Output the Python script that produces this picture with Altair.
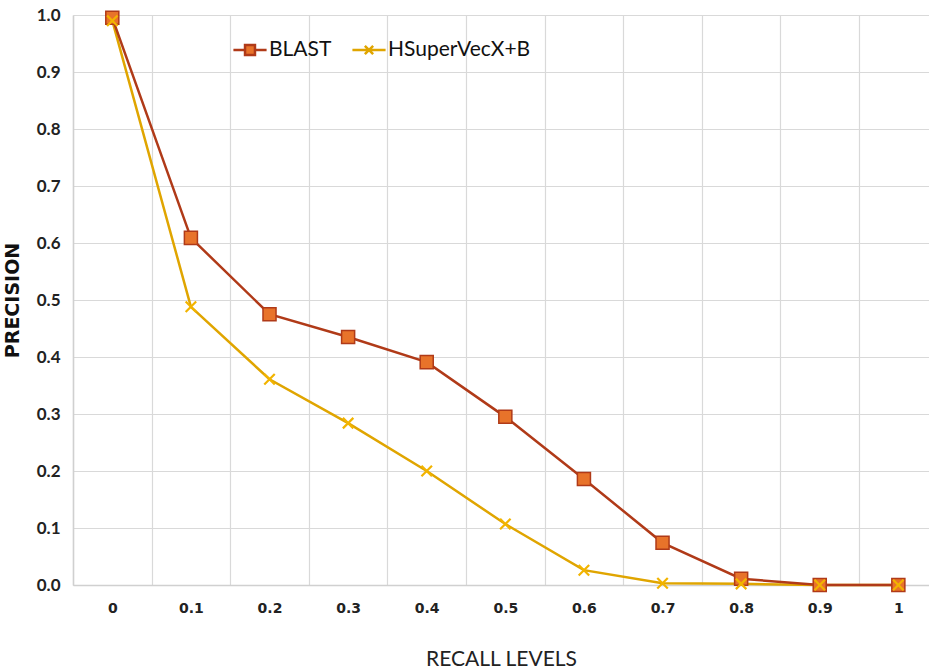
import altair as alt
import pandas as pd

recall = [0, 0.1, 0.2, 0.3, 0.4, 0.5, 0.6, 0.7, 0.8, 0.9, 1.0]
blast = [0.995, 0.609, 0.475, 0.435, 0.391, 0.295, 0.186, 0.074, 0.011, 0.0, 0.0]
hsuper = [0.990, 0.488, 0.361, 0.284, 0.200, 0.107, 0.026, 0.003, 0.002, 0.0, 0.0]
series_names = ["BLAST", "HSuperVecX+B"]
y_ticks = [0.0, 0.1, 0.2, 0.3, 0.4, 0.5, 0.6, 0.7, 0.8, 0.9, 1.0]
x_axis_values = [round(i * 0.05, 2) for i in range(-1, 21)]

rows = []
for r, b, h in zip(recall, blast, hsuper):
    rows.append({"recall": r, "precision": b, "series": series_names[0]})
    rows.append({"recall": r, "precision": h, "series": series_names[1]})
df = pd.DataFrame(rows)

DARK = "#B03A18"
ORANGE = "#E8732A"
GOLD = "#E0A500"
COND = "Lato"

x_enc = alt.X(
    "recall:Q",
    scale=alt.Scale(domain=[-0.05, 1.039], nice=False, zero=False),
    axis=alt.Axis(
        values=x_axis_values,
        title="RECALL LEVELS",
        titleFont=COND,
        titleFontSize=21,
        titleFontWeight="normal",
        titleColor="#222222",
        titlePadding=33,
        labelExpr="round(datum.value*20) % 2 == 0 ? format(datum.value, '.1~f') : ''",
        labelFont="DejaVu Sans",
        labelFontSize=14,
        labelFontWeight="bold",
        labelColor="#222222",
        labelPadding=16,
        ticks=False,
        grid=True,
        gridColor="#D9D9D9",
        gridWidth=1.2,
        gridOpacity={"condition": {"test": "round(datum.value*20) % 2 == 0", "value": 0}, "value": 1},
        domain=True,
        domainColor="#D0D0D0",
        domainWidth=1.5,
    ),
)

y_enc = alt.Y(
    "precision:Q",
    scale=alt.Scale(domain=[0, 1], nice=False),
    axis=alt.Axis(
        values=y_ticks,
        format=".1f",
        title="PRECISION",
        titleFont="DejaVu Sans",
        titleFontSize=19,
        titleFontWeight="bold",
        titleColor="#111111",
        titlePadding=14,
        labelFont=COND,
        labelFontSize=17,
        labelFontWeight="bold",
        labelColor="#222222",
        labelPadding=13,
        ticks=False,
        grid=True,
        gridColor="#D9D9D9",
        gridWidth=1.2,
        domain=True,
        domainColor="#D0D0D0",
        domainWidth=1.5,
    ),
)

base = alt.Chart(df).encode(x=x_enc, y=y_enc)

line_blast = base.transform_filter(alt.datum.series == series_names[0]).mark_line(
    color=DARK, strokeWidth=2.5
)
line_hs = base.transform_filter(alt.datum.series == series_names[1]).mark_line(
    color=GOLD, strokeWidth=2.5
)
pts_blast = base.transform_filter(alt.datum.series == series_names[0]).mark_point(
    shape="square", size=170, filled=True, fill=ORANGE, stroke=DARK, strokeWidth=1.5, opacity=1
)
pts_hs = base.transform_filter(alt.datum.series == series_names[1]).mark_point(
    shape="M-1,-1L1,1M-1,1L1,-1", size=110, filled=False, stroke="#F2B400", strokeWidth=2.2, opacity=1
)

sym_blast = "M-1,0H-0.3M0.3,0H1M-0.3,-0.3H0.3V0.3H-0.3Z"
sym_hs = "M-1,0H1M-0.25,-0.25L0.25,0.25M-0.25,0.25L0.25,-0.25"

legend_layer = base.mark_point(opacity=0, strokeWidth=2, filled=True).encode(
    shape=alt.Shape(
        "series:N",
        scale=alt.Scale(domain=series_names, range=[sym_blast, sym_hs]),
        legend=alt.Legend(
            title=None,
            orient="none",
            legendX=232 - 73,
            legendY=44 - 15 - 12,
            direction="horizontal",
            symbolSize=1100,
            symbolStrokeWidth=2.5,
            symbolOpacity=1,
            labelFont=COND,
            labelFontSize=21,
            labelColor="#111111",
            labelOffset=1,
            columnPadding=15,
        ),
    ),
    fill=alt.Fill(
        "series:N",
        scale=alt.Scale(domain=series_names, range=[ORANGE, "rgba(0,0,0,0)"]),
    ),
    stroke=alt.Stroke(
        "series:N",
        scale=alt.Scale(domain=series_names, range=[DARK, GOLD]),
    ),
)

chart = (
    alt.layer(legend_layer, line_hs, line_blast, pts_blast, pts_hs)
    .properties(
        width=856,
        height=570,
        padding={"left": 73, "top": 15, "right": 0, "bottom": 86},
        autosize=alt.AutoSizeParams(type="none"),
        background="white",
    )
    .configure_view(stroke=None)
)

chart.save("out.html", embed_options={"renderer": "svg", "actions": False})
